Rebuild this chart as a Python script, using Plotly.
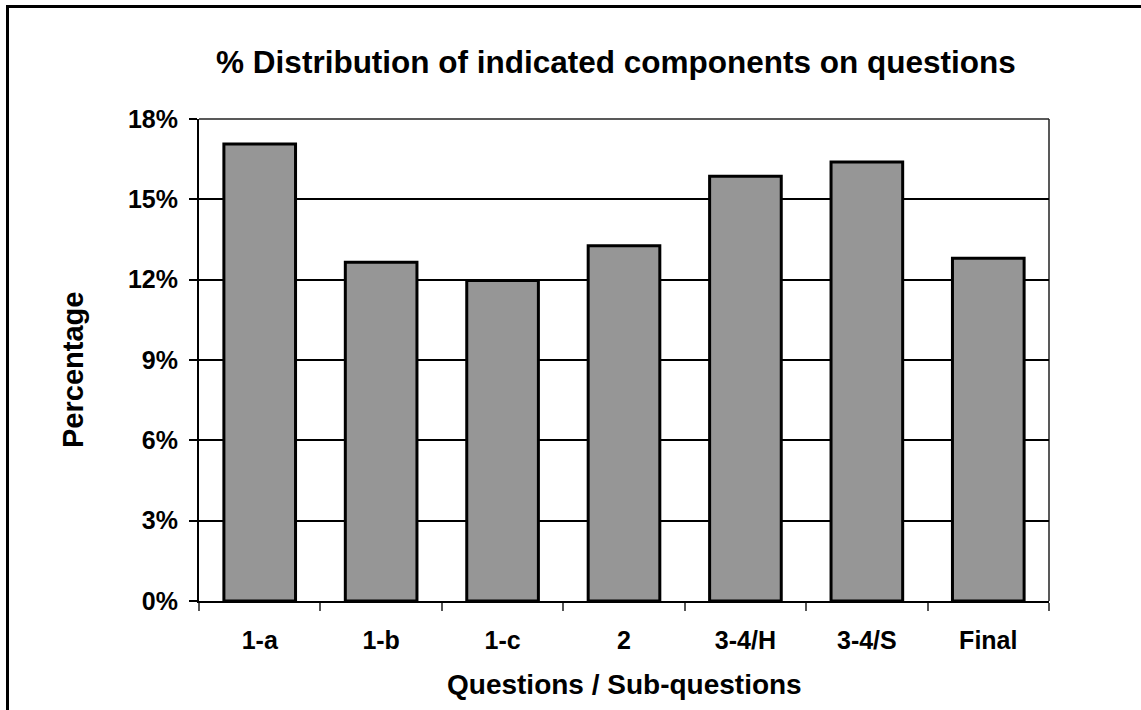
import plotly.graph_objects as go

categories = ["1-a", "1-b", "1-c", "2", "3-4/H", "3-4/S", "Final"]
shares = [17.07, 12.65, 11.97, 13.27, 15.86, 16.39, 12.80]
y_ticks = [0, 3, 6, 9, 12, 15, 18]
y_tick_labels = [f"{v}%" for v in y_ticks]

W, H = 1141, 710
ML, MR, MT, MB = 199, 92, 119, 109
PW, PH = W - ML - MR, H - MT - MB


def px_x(px):
    return (px - ML) / PW


def px_y(py):
    return (H - MB - py) / PH


FONT = "Liberation Sans, Arial, sans-serif"

fig = go.Figure(
    go.Bar(
        x=categories,
        y=shares,
        marker=dict(color="#969696", line=dict(color="#000000", width=3)),
        width=0.59,
    )
)

fig.update_layout(
    width=W,
    height=H,
    margin=dict(l=ML, r=MR, t=MT, b=MB),
    paper_bgcolor="#ffffff",
    plot_bgcolor="#ffffff",
    showlegend=False,
    font=dict(family=FONT, color="#000000"),
    title=dict(
        text="<b>% Distribution of indicated components on questions</b>",
        font=dict(size=31.5, family=FONT, color="#000000"),
        x=px_x(616), xanchor="center", xref="paper",
        y=1 - 62 / H, yanchor="middle", yref="container",
    ),
    xaxis=dict(
        type="category",
        tickson="boundaries",
        ticks="outside",
        ticklen=8,
        tickwidth=1.5,
        tickcolor="#555555",
        tickfont=dict(size=25, family=FONT, color="#000000"),
        showline=True,
        linecolor="#000000",
        linewidth=2,
        mirror=False,
        showgrid=False,
        ticklabelstandoff=16,
    ),
    yaxis=dict(
        range=[0, 18],
        tickvals=y_ticks,
        ticktext=[f"<b>{t}</b>" for t in y_tick_labels],
        ticks="outside",
        ticklen=8,
        tickwidth=1.5,
        tickcolor="#000000",
        tickfont=dict(size=25, family=FONT, color="#000000"),
        showline=True,
        linecolor="#000000",
        linewidth=2,
        showgrid=True,
        gridcolor="#000000",
        gridwidth=1.5,
        zeroline=False,
        ticklabelstandoff=6,
    ),
)

fig.update_xaxes(ticktext=[f"<b>{c}</b>" for c in categories], tickvals=categories)

# plot-area frame on the top and right edges
fig.add_shape(type="line", xref="paper", yref="paper", x0=0, x1=1, y0=1, y1=1,
              line=dict(color="#222222", width=1.5), layer="below")
fig.add_shape(type="line", xref="paper", yref="paper", x0=1, x1=1, y0=0, y1=1,
              line=dict(color="#222222", width=1.5), layer="below")

# outer chart border
fig.add_shape(type="rect", xref="paper", yref="paper",
              x0=px_x(7.5), x1=px_x(1160), y0=px_y(6.5), y1=px_y(730),
              line=dict(color="#000000", width=3), fillcolor="rgba(0,0,0,0)")

# axis titles
fig.add_annotation(text="<b>Questions / Sub-questions</b>", xref="paper", yref="paper",
                   x=px_x(624), y=px_y(684), xanchor="center", yanchor="middle",
                   showarrow=False, font=dict(size=28, family=FONT, color="#000000"))
fig.add_annotation(text="<b>Percentage</b>", xref="paper", yref="paper",
                   x=px_x(73), y=px_y(370), xanchor="center", yanchor="middle",
                   textangle=-90, showarrow=False,
                   font=dict(size=29, family=FONT, color="#000000"))

fig.write_html("out.html")
